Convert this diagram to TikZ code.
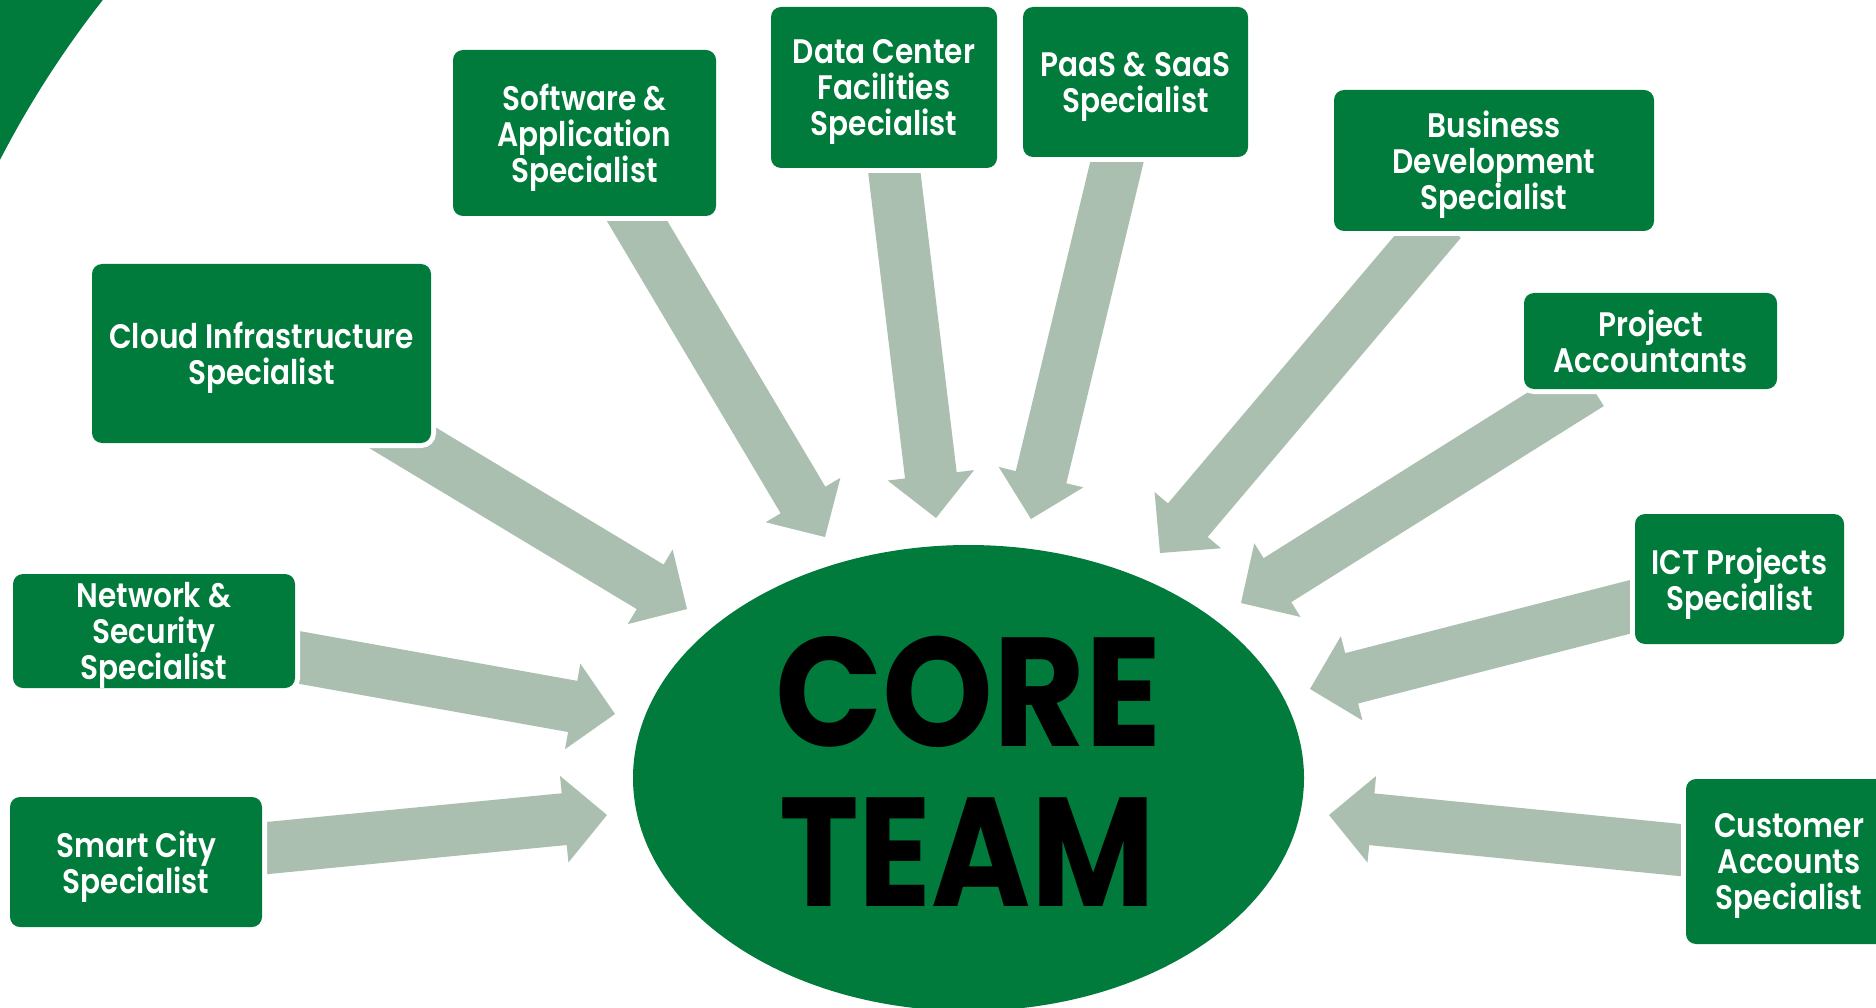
\documentclass[tikz,border=0pt]{standalone}
\usepackage{fontspec}
\newfontfamily\gothic{Poppins SemiBold}[FakeStretch=0.87]
\newfontfamily\corefont{Poppins}[FakeStretch=0.91]
\newfontfamily\teamfont{Poppins}[FakeStretch=0.87]
\usetikzlibrary{calc,shapes.geometric}
\definecolor{cgreen}{RGB}{0,123,59}
\definecolor{arrowgray}{RGB}{170,191,175}
\newcommand{\blockarrow}[2]{%
  \coordinate (bahead) at ($(#2)!43pt!(#1)$);
  \fill[arrowgray]
    ($(#1)!26pt!90:(#2)$) -- ($(bahead)!26pt!90:(#2)$) -- ($(bahead)!43.5pt!90:(#2)$) --
    (#2) -- ($(bahead)!43.5pt!-90:(#2)$) -- ($(bahead)!26pt!-90:(#2)$) --
    ($(#1)!26pt!-90:(#2)$) -- cycle;}
\tikzset{
  box/.style={rectangle, rounded corners=10pt, fill=cgreen,
    preaction={draw=white, line width=10pt}, text=white, text depth=0pt,
    font=\gothic\fontsize{34}{36}\selectfont, align=center, inner sep=0pt},
  coretext/.style={text=black, inner sep=0pt}
}
\begin{document}
\begin{tikzpicture}[x=1pt,y=-1pt]
\useasboundingbox (0,0) rectangle (1876,1008);
\clip (0,0) rectangle (1876,1008);
\fill[white] (0,0) rectangle (1876,1008);
% corner decoration
\fill[cgreen] (0,0) -- (102.8,0) arc[start angle=141.8, end angle=152.7, radius=1000pt] -- cycle;
% arrow end points
\coordinate (t1) at (368,417);   \coordinate (p1) at (687,609);
\coordinate (t2) at (627,204);   \coordinate (p2) at (825,537);
\coordinate (t3) at (892,153);   \coordinate (p3) at (936,518);
\coordinate (t4) at (1121,145);  \coordinate (p4) at (1031,519);
\coordinate (t5) at (1441,221);  \coordinate (p5) at (1160,553);
\coordinate (t6) at (1590,384);  \coordinate (p6) at (1241,603);
\coordinate (t7) at (1649,602);  \coordinate (p7) at (1310,689);
\coordinate (t8) at (1700,852);  \coordinate (p8) at (1329,815);
\coordinate (t9) at (280,654);   \coordinate (p9) at (615,714);
\coordinate (t10) at (247,850);  \coordinate (p10) at (607,815);
\blockarrow{t1}{p1}
\blockarrow{t2}{p2}
\blockarrow{t3}{p3}
\blockarrow{t4}{p4}
\blockarrow{t5}{p5}
\blockarrow{t6}{p6}
\blockarrow{t7}{p7}
\blockarrow{t8}{p8}
\blockarrow{t9}{p9}
\blockarrow{t10}{p10}
% boxes
\node[box, minimum width=339pt, minimum height=179pt] (cloud) at (261.5,353.5) {Cloud Infrastructure\\Specialist};
\node[box, minimum width=263pt, minimum height=166pt] (soft) at (584.5,133) {Software \&\\Application\\Specialist};
\node[box, minimum width=226pt, minimum height=161pt] (dc) at (884,87.5) {Data Center\\Facilities\\Specialist};
\node[box, minimum width=225pt, minimum height=150pt] (paas) at (1135.5,82) {PaaS \& SaaS\\Specialist};
\node[box, minimum width=320pt, minimum height=141pt] (bizdev) at (1494,160.5) {Business\\Development\\Specialist};
\node[box, minimum width=253pt, minimum height=96pt] (projacc) at (1650.5,341) {Project\\Accountants};
\node[box, minimum width=209pt, minimum height=130pt] (ict) at (1739.5,579) {ICT Projects\\Specialist};
\node[box, minimum width=206pt, minimum height=165pt] (cust) at (1789,861.5) {Customer\\Accounts\\Specialist};
\node[box, minimum width=282pt, minimum height=114pt] (net) at (154,631) {Network \&\\Security\\Specialist};
\node[box, minimum width=252pt, minimum height=130pt] (smart) at (136,862) {Smart City\\Specialist};
% core
\node[ellipse, fill=cgreen, minimum width=671pt, minimum height=466pt, inner sep=0pt] (core) at (968.5,778) {};
\node[coretext, anchor=base, font=\corefont\bfseries\fontsize{155}{160}\selectfont] (corew) at (968.5,746) {CORE};
\node[coretext, anchor=base, font=\teamfont\bfseries\fontsize{155}{160}\selectfont] (teamw) at (967,906) {TEAM};
\end{tikzpicture}
\end{document}
